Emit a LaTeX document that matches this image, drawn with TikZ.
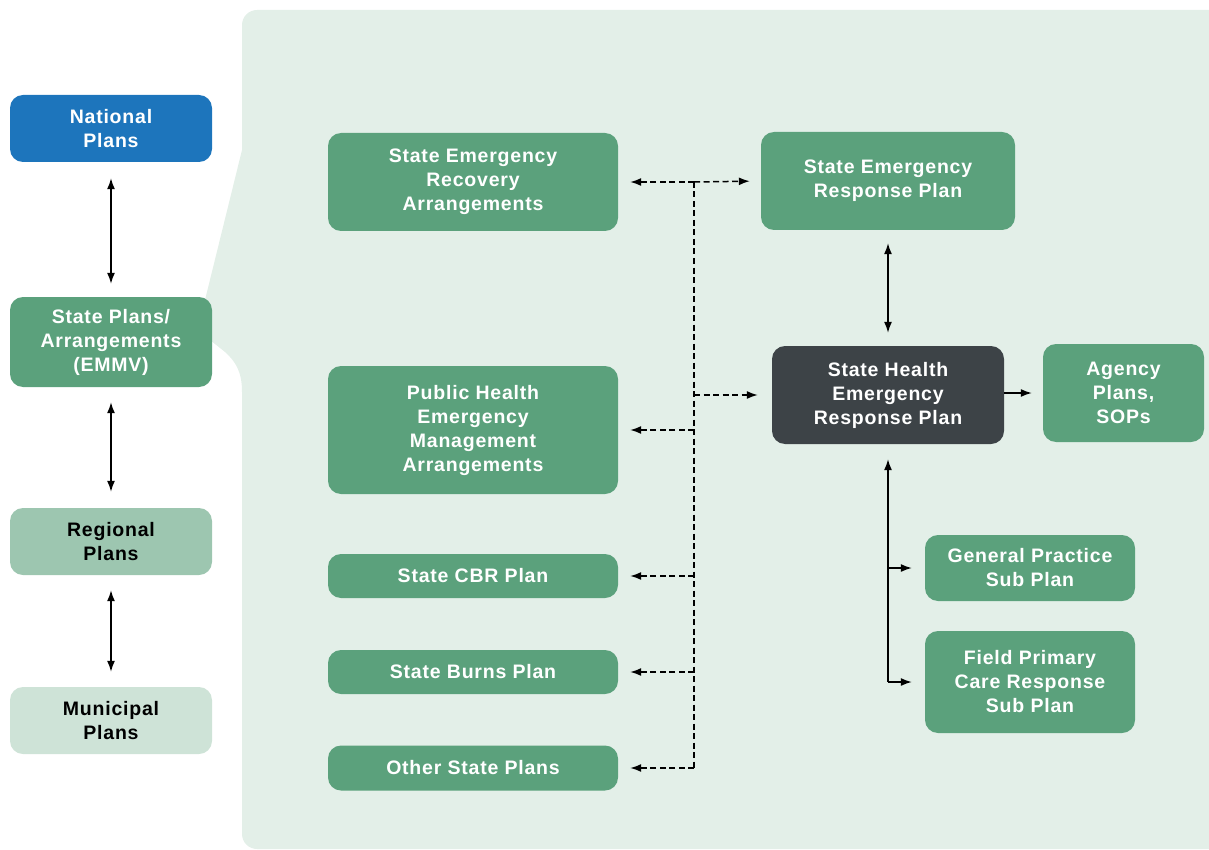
\documentclass[tikz,border=0pt]{standalone}
\usepackage{fontspec}
\setmainfont{Liberation Sans}[LetterSpace=4]
\usepackage{xcolor}
\usetikzlibrary{
  arrows.meta,
  positioning,
  calc
}
\definecolor{natblue}{HTML}{1D75BC}
\definecolor{plangreen}{HTML}{5BA17C}
\definecolor{reggreen}{HTML}{9DC6B0}
\definecolor{mungreen}{HTML}{CEE3D7}
\definecolor{healthdark}{HTML}{3D4347}
\definecolor{panelbg}{HTML}{E3EFE8}

\begin{document}
\begin{tikzpicture}[
  x=1pt, y=-1pt,
  every node/.style={font=\fontsize{19.5}{24}\selectfont\bfseries, align=center, inner sep=0pt},
  plan/.style={fill=plangreen, text=white, rounded corners=13pt},
  lvl/.style={plan, minimum width=202pt, minimum height=67pt},
  arr/.style={line width=1.4pt, {Latex[length=11pt,width=8pt]}-{Latex[length=11pt,width=8pt]}},
  tip/.style={line width=1.4pt, -{Latex[length=11pt,width=8pt]}},
  dline/.style={line width=1.5pt, dash pattern=on 6pt off 3.5pt, -{Latex[length=11pt,width=8pt]}}
]
  \useasboundingbox (0,0) rectangle (1209,850);

  % panel
  \fill[panelbg] (1209,850) -- (1209,10)
    [rounded corners=15pt] -- (242,10) [sharp corners] -- (242,150)
    -- (205,300) -- (205,336) -- (225,352)
    .. controls (236,362) and (242,372) .. (242,392)
    [rounded corners=15pt] -- (242,849) [sharp corners] -- (1209,849) -- cycle;

  % left column
  \node[lvl, fill=natblue] (nat) at (111,128.5) {National\\Plans};
  \node[lvl, minimum height=90pt] (stpl) at (111,342) {State Plans/\\Arrangements\\(EMMV)};
  \node[lvl, fill=reggreen, text=black] (reg) at (111,541.5) {Regional\\Plans};
  \node[lvl, fill=mungreen, text=black] (mun) at (111,720.5) {Municipal\\Plans};

  \draw[arr, shorten <=16pt, shorten >=13pt] (nat) -- (stpl);
  \draw[arr, shorten <=15pt, shorten >=16pt] (stpl) -- (reg);
  \draw[arr, shorten <=15pt, shorten >=15pt] (reg) -- (mun);

  % state plans
  \node[plan, minimum width=290pt, minimum height=98pt] (serecov) at (473,182) {State Emergency\\Recovery\\Arrangements};
  \node[plan, minimum width=290pt, minimum height=128pt] (phem) at (473,430) {Public Health\\Emergency\\Management\\Arrangements};
  \node[plan, minimum width=290pt, minimum height=44pt] (cbr) at (473,576) {State CBR Plan};
  \node[plan, minimum width=290pt, minimum height=44pt] (burns) at (473,672) {State Burns Plan};
  \node[plan, minimum width=290pt, minimum height=45pt] (other) at (473,768) {Other State Plans};

  \node[plan, minimum width=254pt, minimum height=98pt] (serp) at (888,181) {State Emergency\\Response Plan};
  \node[plan, fill=healthdark, minimum width=232pt, minimum height=98pt] (sherp) at (888,395) {State Health\\Emergency\\Response Plan};
  \node[plan, minimum width=161pt, minimum height=98pt] (agency) at (1123.5,393) {Agency\\Plans,\\SOPs};
  \node[plan, minimum width=210pt, minimum height=66pt] (gp) at (1030,568) {General Practice\\Sub Plan};
  \node[plan, minimum width=210pt, minimum height=102pt] (fpc) at (1030,682) {Field Primary\\Care Response\\Sub Plan};

  % dashed links
  \coordinate (trunk) at (694,0);
  \coordinate (t1) at (serecov.east -| trunk);
  \coordinate (t2) at (sherp.west -| trunk);
  \coordinate (t3) at (phem.east -| trunk);
  \coordinate (t4) at (cbr.east -| trunk);
  \coordinate (t5) at (burns.east -| trunk);
  \coordinate (t6) at (other.east -| trunk);
  \draw[line width=1.5pt, dash pattern=on 6pt off 3.5pt] (t1) -- (t6);
  \draw[dline, shorten >=12pt] (t1) -- (serecov.east);
  \draw[dline, shorten >=11pt] (t1) -- (serp.west);
  \draw[dline, shorten >=14pt] (t2) -- (sherp.west);
  \draw[dline, shorten >=12pt] (t3) -- (phem.east);
  \draw[dline, shorten >=12pt] (t4) -- (cbr.east);
  \draw[dline, shorten >=12pt] (t5) -- (burns.east);
  \draw[dline, shorten >=12pt] (t6) -- (other.east);

  % health plan links
  \draw[arr, shorten <=13pt, shorten >=13pt] (serp) -- (sherp);
  \draw[tip, shorten >=11pt] (sherp.east |- agency.west) -- (agency.west);
  \coordinate (b1) at (sherp.south |- gp.west);
  \coordinate (b2) at (sherp.south |- fpc.west);
  \draw[tip, shorten >=15pt] (b2) -- (sherp.south);
  \draw[tip, shorten >=13pt] (b1) -- (gp.west);
  \draw[tip, shorten >=13pt] (b2) -- (fpc.west);

\end{tikzpicture}
\end{document}
